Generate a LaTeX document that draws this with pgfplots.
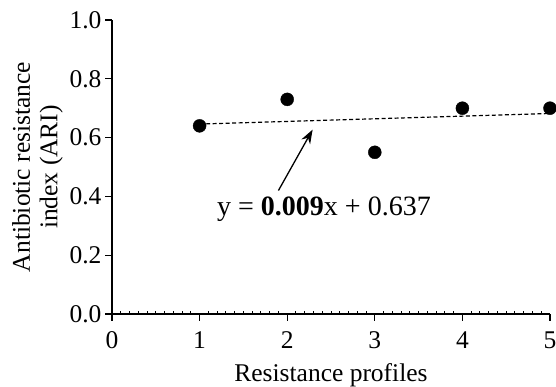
\documentclass[border=0pt]{standalone}
\usepackage{fontspec}
\setmainfont{Liberation Serif}
\usepackage{pgfplots}
\pgfplotsset{compat=1.18}
\usetikzlibrary{arrows.meta}
\begin{document}
\begin{tikzpicture}
\begin{axis}[
  scale only axis,
  width=438pt, height=294pt,
  xmin=0, xmax=5, ymin=0, ymax=1,
  axis x line=bottom, axis y line=left,
  axis line style={-, line width=1.2pt},
  xtick={0,1,2,3,4,5},
  ytick={0,0.2,0.4,0.6,0.8,1.0},
  minor x tick num=9,
  tick align=outside,
  major tick length=7pt,
  minor tick length=3pt,
  tick style={line width=1.2pt, black},
  minor x tick style={yshift=3pt, line width=1pt},
  yticklabel style={/pgf/number format/fixed, /pgf/number format/fixed zerofill, /pgf/number format/precision=1, xshift=0pt},
  /pgf/number format/assume math mode=true,
  ticklabel style={font=\fontsize{25.5}{28}\selectfont},
  xticklabel style={yshift=-7pt},
  label style={font=\fontsize{25.5}{27.5}\selectfont},
  xlabel={Resistance profiles},
  xlabel style={yshift=-8pt},
  ylabel={Antibiotic resistance\\index (ARI)},
  ylabel style={align=center, yshift=0pt},
  clip=false,
]
\addplot[only marks, mark=*, mark size=6.5pt, black] coordinates {
  (1,0.64) (2,0.73) (3,0.55) (4,0.70) (5,0.70)
};
\addplot[black, line width=1.2pt, dash pattern=on 4pt off 2.5pt] coordinates {
  (1,0.646) (5,0.682)
};
\draw[-{Stealth[length=14pt,width=10pt]}, line width=1.3pt] (axis cs:1.9,0.42) -- (axis cs:2.29,0.627);
\node[font=\fontsize{28}{31}\selectfont] at (axis cs:2.42,0.355) {y = \textbf{0.009}x + 0.637};
\coordinate (SW) at (rel axis cs:0,0);
\coordinate (NE) at (rel axis cs:1,1);
\end{axis}
\pgfresetboundingbox
\path ([shift={(-112pt,-73pt)}]SW) rectangle ([shift={(6pt,20pt)}]NE);
\end{tikzpicture}
\end{document}
